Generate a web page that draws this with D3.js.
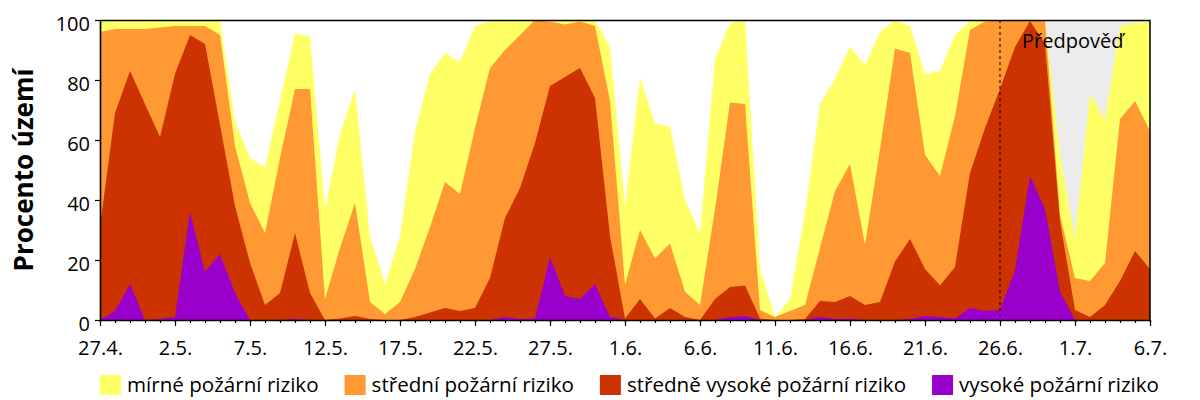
<!DOCTYPE html>
<html>
<head>
<meta charset="utf-8">
<script src="https://cdn.jsdelivr.net/npm/d3@7"></script>
<style>
  body { margin: 0; background: #fff; }
  svg text { font-family: "Open Sans", sans-serif; fill: #000; }
</style>
</head>
<body>
<div id="chart"></div>
<script>
// share of territory (%) at or above each risk level, one value per day from 27.4. to 6.7.
var pctMirne = [100,100,100,100,100,100,100,100,100,66,54,51,73,95.5,94.5,37,62,77,28,12,
	28,63,82,89,86,98,99.7,100,100,100,100,100,100,100,91,38,81,65.5,64.5,40,
	29,87,99,100,17,1,7,36,72,80.5,91,85,96,100,98,82,83,95,99.7,100,
	100,100,100,100,55,27,75.5,66.7,98,99,99.5];
var pctStredni = [96,97,97,97,97.5,98,98,98,95,58,39,29,54,77,77,7,24,39,6,2,
	6,17,31,46,42,64,84,90,95,100,99.5,98.5,99.5,98,73,11.7,30,20.5,25.5,9.4,
	5,37,72.5,72,3.3,1,3,5,24,43,52,25,57,90.5,89,55,48,68,96.7,99.5,
	100,100,100,100,35,14,13,19,67,73,63];
var pctStredneVysoke = [31,69,83,72,61,82,95,92,65,38,19,5,9,29,9,0,0.5,1.3,0.3,0,
	0,1,2.5,4,3,4,14,34,44,59,78,81,84,74,28,0.5,7,0.5,4,1,
	0,7,11,11.5,0.5,0,0,0.3,6.3,6,8,5,6,19.5,27,17,11.5,17.7,49,64,
	77,91,99.7,92,33,3.3,1,5,13,23,17];
var pctVysoke = [0,3,12,0,0.3,1,36,16,22,9,0,0,0,0.3,0,0,0,0,0,0,
	0,0,0,0,0,0,0,1,0.3,0.5,21,8,7,12,1,0,0,0,0,0,
	0,0,1,1.3,0,0,0,0,1,0.3,0.5,0,0,0,0.3,1.3,1,0.5,4,3,
	3.3,16.7,48,37,9.4,0,0,0,0,0,0];

var tickLabels = ["27.4.","2.5.","7.5.","12.5.","17.5.","22.5.","27.5.","1.6.","6.6.","11.6.","16.6.","21.6.","26.6.","1.7.","6.7."];
var categories = ["mírné požární riziko","střední požární riziko","středně vysoké požární riziko","vysoké požární riziko"];
var colors = ["#ffff66","#ff9933","#cc3300","#9900cc"];
var forecastFrom = 60; // 26.6.

var w = 1200, h = 400;
var pLeft = 100, pRight = 1150, pTop = 20, pBottom = 320;

var svg = d3.select("#chart").append("svg")
	.attr("width", w)
	.attr("height", h);

var days = d3.range(pctMirne.length);
var x = d3.scaleLinear().domain([0, days.length - 1]).range([pLeft, pRight]);
var y = d3.scaleLinear().domain([0, 100]).range([pBottom, pTop]);

//forecast background
svg.append("rect")
	.attr("x", x(forecastFrom))
	.attr("y", pTop)
	.attr("width", x(days.length - 1) - x(forecastFrom))
	.attr("height", pBottom - pTop)
	.attr("fill", "#ececec");

var layers = [pctMirne, pctStredni, pctStredneVysoke, pctVysoke];

var area = d3.area()
	.x(function(d, i) { return x(i); })
	.y0(y(0))
	.y1(function(d) { return y(d); });

svg.selectAll(".layer")
	.data(layers)
	.enter()
	.append("path")
	.attr("class", "layer")
	.attr("d", area)
	.attr("fill", function(d, i) { return colors[i]; });

// dashed line for today
svg.append("line")
	.attr("x1", x(forecastFrom)).attr("x2", x(forecastFrom))
	.attr("y1", pTop).attr("y2", pBottom)
	.attr("stroke", "#000")
	.attr("stroke-width", 1)
	.attr("stroke-dasharray", "3,3");

svg.append("text")
	.attr("x", 1022)
	.attr("y", 48)
	.attr("font-size", "20px")
	.text("Předpověď");

// frame
svg.append("rect")
	.attr("x", pLeft + 0.5)
	.attr("y", pTop + 0.5)
	.attr("width", pRight - pLeft - 0.5)
	.attr("height", pBottom - pTop)
	.attr("fill", "none")
	.attr("stroke", "#000")
	.attr("stroke-width", 1.5);

// y axis
var yAxis = svg.append("g")
	.attr("transform", "translate(" + pLeft + ",0)")
	.call(d3.axisLeft(y).tickValues([0, 20, 40, 60, 80, 100]).tickSize(5).tickPadding(5).tickSizeOuter(0));
yAxis.selectAll("text")
	.attr("dy", "0.5em")
	.style("font-family", "Open Sans, sans-serif")
	.style("font-size", "20px");

// x axis, minor ticks every day
svg.append("g")
	.attr("transform", "translate(0," + pBottom + ")")
	.call(d3.axisBottom(x).tickValues(days).tickSize(3).tickFormat("").tickSizeOuter(0));

var major = days.filter(function(d) { return d % 5 === 0; });
var xAxis = svg.append("g")
	.attr("transform", "translate(0," + pBottom + ")")
	.call(d3.axisBottom(x).tickValues(major).tickSize(6).tickPadding(15).tickSizeOuter(0)
		.tickFormat(function(d, i) { return tickLabels[i]; }));
xAxis.selectAll("text")
	.style("font-family", "Open Sans, sans-serif")
	.style("font-size", "20px");
svg.selectAll(".domain, .tick line").attr("stroke", "#000").attr("stroke-width", 1.2);

svg.append("text")
	.attr("transform", "translate(33," + ((pTop + pBottom) / 2) + ") rotate(-90)")
	.attr("text-anchor", "middle")
	.attr("font-size", "26px")
	.attr("font-weight", "bold")
	.text("Procento území");

// legend
var legend = svg.append("g").attr("class", "legend");
var lx = 100;
categories.forEach(function(c, i) {
	legend.append("rect")
		.attr("x", lx)
		.attr("y", 375)
		.attr("width", 21)
		.attr("height", 20)
		.attr("fill", colors[i]);
	var t = legend.append("text")
		.attr("x", lx + 27)
		.attr("y", 392)
		.attr("font-size", "20.6px")
		.text(c);
	lx = lx + 27 + t.node().getComputedTextLength() + 26;
});
</script>
</body>
</html>
